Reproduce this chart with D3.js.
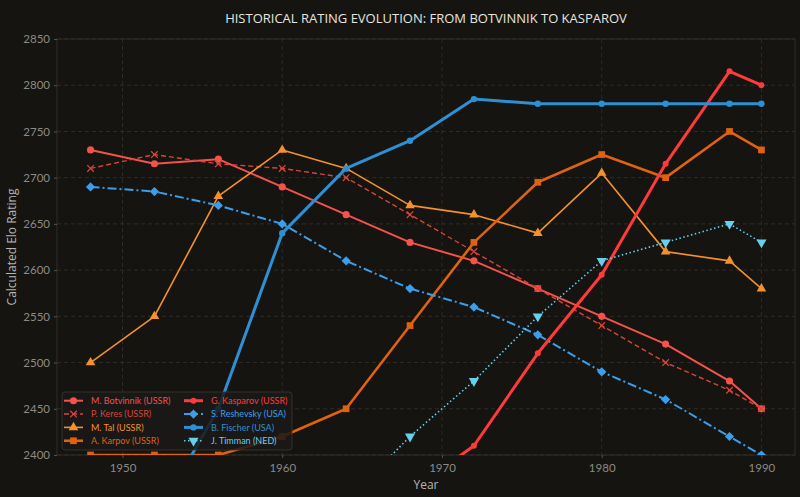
<!DOCTYPE html>
<html>
<head>
<meta charset="utf-8">
<script src="https://cdn.jsdelivr.net/npm/d3@7"></script>
<style>
  html, body { margin: 0; padding: 0; background: #151411; }
  svg { display: block; }
  text { font-family: "Open Sans", "DejaVu Sans", sans-serif; }
</style>
</head>
<body>
<svg id="chart" width="800" height="497"></svg>
<script>
// ---------- DATA ----------
const years = [1948, 1952, 1956, 1960, 1964, 1968, 1972, 1976, 1980, 1984, 1988, 1990];
const botvinnik = [2730, 2715, 2720, 2690, 2660, 2630, 2610, 2580, 2550, 2520, 2480, 2450];
const keres     = [2710, 2725, 2715, 2710, 2700, 2660, 2620, 2580, 2540, 2500, 2470, 2450];
const tal       = [2500, 2550, 2680, 2730, 2710, 2670, 2660, 2640, 2705, 2620, 2610, 2580];
const karpov    = [2400, 2400, 2400, 2420, 2450, 2540, 2630, 2695, 2725, 2700, 2750, 2730];
const kasparov  = [null, null, null, null, null, 2360, 2410, 2510, 2595, 2715, 2815, 2800];
const reshevsky = [2690, 2685, 2670, 2650, 2610, 2580, 2560, 2530, 2490, 2460, 2420, 2400];
const fischer   = [null, 2330, 2450, 2640, 2710, 2740, 2785, 2780, 2780, 2780, 2780, 2780];
const timman    = [null, null, null, null, 2350, 2420, 2480, 2550, 2610, 2630, 2650, 2630];
const seriesNames = ["M. Botvinnik (USSR)", "P. Keres (USSR)", "M. Tal (USSR)", "A. Karpov (USSR)",
                     "G. Kasparov (USSR)", "S. Reshevsky (USA)", "B. Fischer (USA)", "J. Timman (NED)"];
const xTicks = [1950, 1960, 1970, 1980, 1990];
const yTicks = [2400, 2450, 2500, 2550, 2600, 2650, 2700, 2750, 2800, 2850];
const titleText = "HISTORICAL RATING EVOLUTION: FROM BOTVINNIK TO KASPAROV";
const xLabel = "Year";
const yLabel = "Calculated Elo Rating";

// ---------- STYLE ----------
const styles = [
  { color: "#f4524a", width: 2,   dash: null,      marker: "circle",   size: 40 },
  { color: "#d8443a", width: 1.4, dash: "5,3",     marker: "x",        size: 30 },
  { color: "#f5912b", width: 1.6, dash: null,      marker: "triangle", size: 40 },
  { color: "#df620f", width: 2.6, dash: null,      marker: "square",   size: 45 },
  { color: "#ff3a3a", width: 3,   dash: null,      marker: "circle",   size: 28 },
  { color: "#3a9eea", width: 2,   dash: "9,3,2,3", marker: "diamond",  size: 4.6 },
  { color: "#2f8fd3", width: 3,   dash: null,      marker: "circle",   size: 32 },
  { color: "#66cfec", width: 1.6, dash: "1.5,2.5", marker: "triangleDown", size: 45 }
];
const allValues = [botvinnik, keres, tal, karpov, kasparov, reshevsky, fischer, timman];

const W = 800, H = 497;
const m = { left: 57, right: 5, top: 39, bottom: 42 };
const svg = d3.select("#chart");
svg.append("rect").attr("width", W).attr("height", H).attr("fill", "#151411");

const x = d3.scaleLinear().domain([1945.9, 1992.1]).range([m.left, W - m.right]);
const y = d3.scaleLinear().domain([2400, 2850]).range([H - m.bottom, m.top]);

const defs = svg.append("defs");
defs.append("clipPath").attr("id", "plotclip").append("rect")
  .attr("x", m.left).attr("y", m.top)
  .attr("width", W - m.right - m.left).attr("height", H - m.bottom - m.top);

// grid
const grid = svg.append("g");
grid.selectAll(".gx").data(xTicks).enter().append("line")
  .attr("x1", d => x(d)).attr("x2", d => x(d))
  .attr("y1", m.top).attr("y2", H - m.bottom)
  .attr("stroke", "#34322e").attr("stroke-width", 0.8).attr("stroke-dasharray", "4,3");
grid.selectAll(".gy").data(yTicks).enter().append("line")
  .attr("x1", m.left).attr("x2", W - m.right)
  .attr("y1", d => y(d)).attr("y2", d => y(d))
  .attr("stroke", "#34322e").attr("stroke-width", 0.8).attr("stroke-dasharray", "4,3");

// frame
svg.append("rect").attr("x", m.left).attr("y", m.top)
  .attr("width", W - m.right - m.left).attr("height", H - m.bottom - m.top)
  .attr("fill", "none").attr("stroke", "#2e2d2a").attr("stroke-width", 1);

// axes
const xAxis = svg.append("g").attr("transform", `translate(0,${H - m.bottom})`)
  .call(d3.axisBottom(x).tickValues(xTicks).tickFormat(d3.format("d")).tickSize(3).tickPadding(6));
const yAxis = svg.append("g").attr("transform", `translate(${m.left},0)`)
  .call(d3.axisLeft(y).tickValues(yTicks).tickFormat(d3.format("d")).tickSize(3).tickPadding(4));
[xAxis, yAxis].forEach(a => {
  a.select(".domain").remove();
  a.selectAll(".tick line").attr("stroke", "#55524c");
  a.selectAll(".tick text").attr("fill", "#8c8a86").attr("font-size", 11.5)
    .style("font-family", "Lato, sans-serif");
});

// symbols
function symbolFor(type, size) {
  if (type === "circle") return d3.symbol().type(d3.symbolCircle).size(size)();
  if (type === "square") return d3.symbol().type(d3.symbolSquare).size(size)();
  if (type === "triangle") return d3.symbol().type(d3.symbolTriangle).size(size)();
  if (type === "triangleDown") return d3.symbol().type(d3.symbolTriangle).size(size)();
  if (type === "diamond") return `M0,${-size}L${size},0L0,${size}L${-size},0Z`;
  if (type === "x") return d3.symbol().type(d3.symbolX).size(size)();
}
function drawMarker(g, type, size, color, px, py) {
  const p = g.append("path").attr("d", symbolFor(type, size))
    .attr("transform", `translate(${px},${py})` + (type === "triangleDown" ? " rotate(180)" : ""));
  if (type === "x") p.attr("fill", "none").attr("stroke", color).attr("stroke-width", 1.3);
  else p.attr("fill", color);
  return p;
}

// lines
const plot = svg.append("g").attr("clip-path", "url(#plotclip)");
const line = d3.line().defined(d => d[1] !== null).x(d => x(d[0])).y(d => y(d[1]));
allValues.forEach((vals, i) => {
  const st = styles[i];
  const pts = years.map((yr, k) => [yr, vals[k]]);
  const g = plot.append("g");
  g.append("path").datum(pts).attr("d", line)
    .attr("fill", "none").attr("stroke", st.color).attr("stroke-width", st.width)
    .attr("stroke-dasharray", st.dash).attr("stroke-linejoin", "round");
  pts.filter(p => p[1] !== null).forEach(p => drawMarker(g, st.marker, st.size, st.color, x(p[0]), y(p[1])));
});

// legend
const lg = svg.append("g");
lg.append("rect").attr("x", 62).attr("y", 392).attr("width", 230).attr("height", 58)
  .attr("rx", 3).attr("fill", "#1a1917").attr("fill-opacity", 0.85)
  .attr("stroke", "#3a3834").attr("stroke-width", 0.8);
seriesNames.forEach((name, i) => {
  const st = styles[i];
  const col = Math.floor(i / 4), row = i % 4;
  const lx = col === 0 ? 64 : 184;
  const ly = 400.7 + row * 13.35;
  lg.append("line").attr("x1", lx).attr("x2", lx + 19).attr("y1", ly).attr("y2", ly)
    .attr("stroke", st.color).attr("stroke-width", st.width).attr("stroke-dasharray", st.dash);
  drawMarker(lg, st.marker, st.size, st.color, lx + 9.5, ly);
  lg.append("text").attr("x", lx + 27).attr("y", ly).attr("dy", "0.35em")
    .attr("fill", st.color).attr("font-size", 9).style("font-family", "Lato, sans-serif").text(name);
});

// title and labels
svg.append("text").attr("x", (m.left + W - m.right) / 2).attr("y", 18).attr("dy", "0.35em")
  .attr("text-anchor", "middle").attr("fill", "#e6e4e0").attr("font-size", 13).text(titleText);
svg.append("text").attr("x", (m.left + W - m.right) / 2).attr("y", 485).attr("dy", "0.35em")
  .attr("text-anchor", "middle").attr("fill", "#b8b6b2").attr("font-size", 12).text(xLabel);
svg.append("text").attr("transform", `translate(12,${(m.top + H - m.bottom) / 2}) rotate(-90)`)
  .attr("dy", "0.35em").attr("text-anchor", "middle").attr("fill", "#b8b6b2").attr("font-size", 12).text(yLabel);
</script>
</body>
</html>
